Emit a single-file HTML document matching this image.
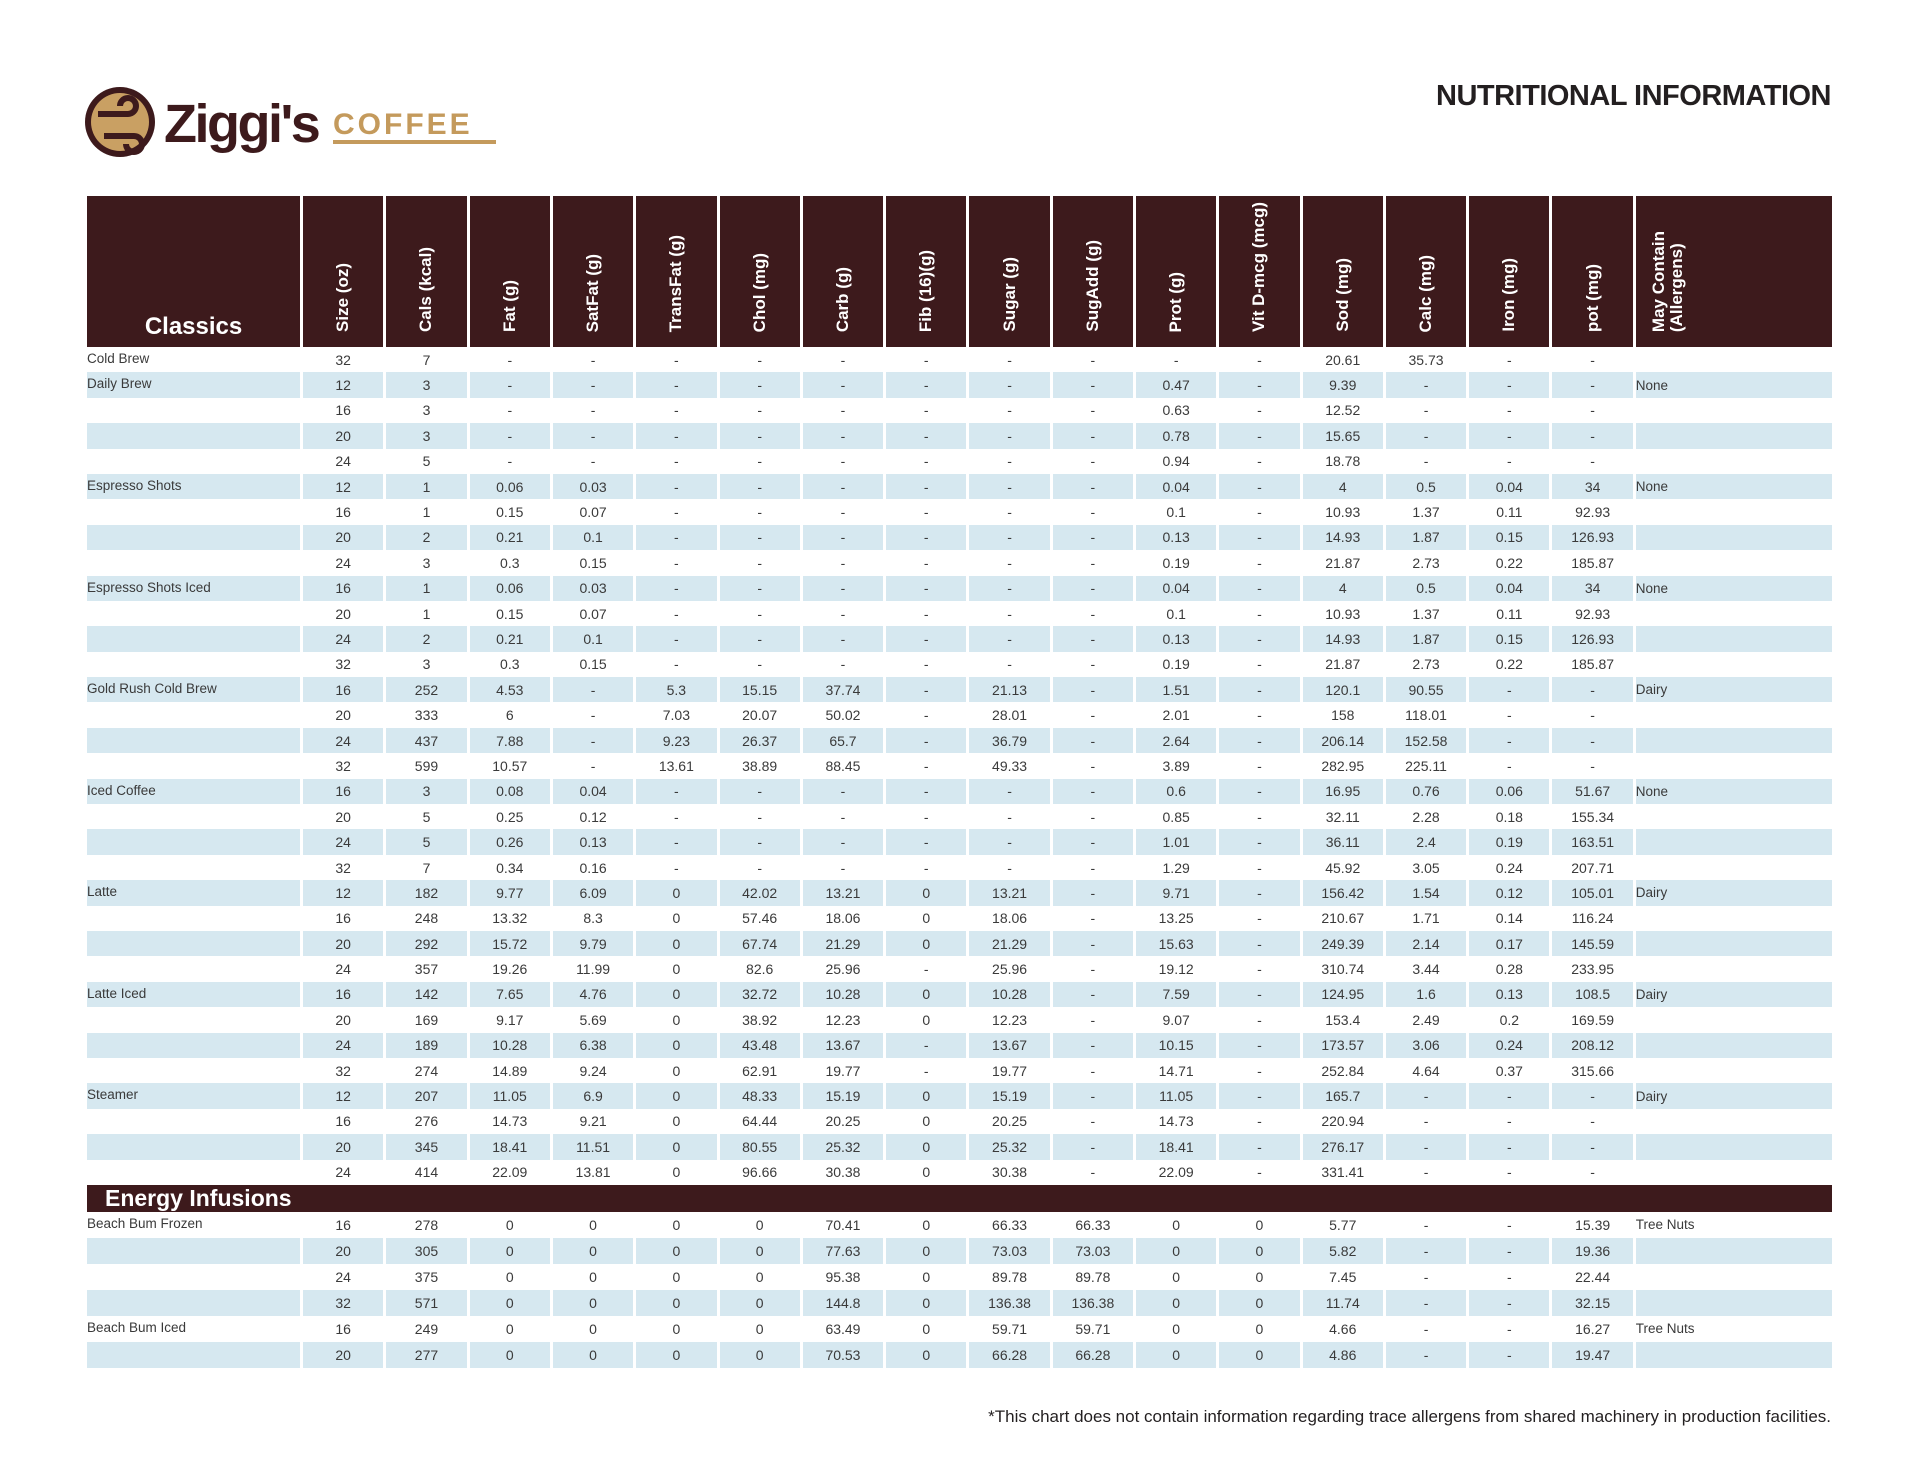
<!DOCTYPE html>
<html><head><meta charset="utf-8"><style>
body{margin:0;width:1920px;height:1484px;background:#fff;position:relative;overflow:hidden;font-family:"Liberation Sans Narrow","Liberation Sans",sans-serif;}
#title{position:absolute;right:89px;top:80px;font:bold 29px "Liberation Sans",sans-serif;color:#231f20;letter-spacing:-0.5px;}
#logo{position:absolute;left:84px;top:84px;}
table{position:absolute;left:84px;top:196px;border-collapse:separate;border-spacing:3px 0;table-layout:fixed;width:1751px;}
th{background:#3d1a1c;color:#fff;height:141px;vertical-align:bottom;padding:0 0 10px 0;font:bold 17px "Liberation Sans",sans-serif;}
th span{writing-mode:vertical-rl;transform:rotate(180deg);display:inline-block;text-align:left;line-height:18px;}
th.cl{font-size:24px;text-align:center;padding-bottom:6px;height:145px;}
td{height:25.4px;padding:0;text-align:center;font-size:14px;color:#3a3a3a;white-space:nowrap;}
td:first-child{text-align:left;font-size:13.5px;vertical-align:top;padding-top:4px;height:21.4px;}
td:last-child{text-align:left;font-size:13.5px;}
tr.s td{background:#d6e8f0;}
tr.e td{background:#3d1a1c;color:#fff;font:bold 23px "Liberation Sans",sans-serif;height:24px;padding:0 0 0 18px;text-align:left;vertical-align:middle;}
tbody.en td{height:26px;}
tbody.en td:first-child{height:22px;}
#foot{position:absolute;right:89px;top:1407px;font-size:17px;color:#231f20;font-family:"Liberation Sans",sans-serif;}
</style></head><body>
<svg id="logo" width="420" height="80" viewBox="0 0 420 80">
<circle cx="36" cy="38" r="35" fill="#3d1a1c"/><circle cx="36" cy="38" r="29" fill="#c9a063"/>
<path d="M14 30 h30 a8 8 0 1 0 -8 -8" stroke="#3d1a1c" stroke-width="6" fill="none"/>
<path d="M20 52 h30 a8 8 0 1 1 -8 8" stroke="#3d1a1c" stroke-width="6" fill="none"/>
<text x="80" y="58" font-family="Liberation Sans" font-size="54" font-weight="bold" fill="#3d1a1c" letter-spacing="-2.5">Ziggi's</text>
<text x="249" y="50" font-family="Liberation Sans" font-size="30" font-weight="bold" fill="#c49a5c" letter-spacing="3">COFFEE</text>
<rect x="249" y="56" width="163" height="4" fill="#c49a5c"/>
</svg>
<div id="title">NUTRITIONAL INFORMATION</div>
<table>
<colgroup><col style="width:213px"><col span="16" style="width:80.3px"><col style="width:196px"></colgroup>
<thead><tr><th class="cl">Classics</th><th><span>Size (oz)</span></th><th><span>Cals (kcal)</span></th><th><span>Fat (g)</span></th><th><span>SatFat (g)</span></th><th><span>TransFat (g)</span></th><th><span>Chol (mg)</span></th><th><span>Carb (g)</span></th><th><span>Fib (16)(g)</span></th><th><span>Sugar (g)</span></th><th><span>SugAdd (g)</span></th><th><span>Prot (g)</span></th><th><span>Vit D-mcg (mcg)</span></th><th><span>Sod (mg)</span></th><th><span>Calc (mg)</span></th><th><span>Iron (mg)</span></th><th><span>pot (mg)</span></th><th style="text-align:left;padding-left:14px"><span>May Contain<br>(Allergens)</span></th></tr></thead>
<tbody>
<tr><td>Cold Brew</td><td>32</td><td>7</td><td>-</td><td>-</td><td>-</td><td>-</td><td>-</td><td>-</td><td>-</td><td>-</td><td>-</td><td>-</td><td>20.61</td><td>35.73</td><td>-</td><td>-</td><td></td></tr>
<tr class="s"><td>Daily Brew</td><td>12</td><td>3</td><td>-</td><td>-</td><td>-</td><td>-</td><td>-</td><td>-</td><td>-</td><td>-</td><td>0.47</td><td>-</td><td>9.39</td><td>-</td><td>-</td><td>-</td><td>None</td></tr>
<tr><td></td><td>16</td><td>3</td><td>-</td><td>-</td><td>-</td><td>-</td><td>-</td><td>-</td><td>-</td><td>-</td><td>0.63</td><td>-</td><td>12.52</td><td>-</td><td>-</td><td>-</td><td></td></tr>
<tr class="s"><td></td><td>20</td><td>3</td><td>-</td><td>-</td><td>-</td><td>-</td><td>-</td><td>-</td><td>-</td><td>-</td><td>0.78</td><td>-</td><td>15.65</td><td>-</td><td>-</td><td>-</td><td></td></tr>
<tr><td></td><td>24</td><td>5</td><td>-</td><td>-</td><td>-</td><td>-</td><td>-</td><td>-</td><td>-</td><td>-</td><td>0.94</td><td>-</td><td>18.78</td><td>-</td><td>-</td><td>-</td><td></td></tr>
<tr class="s"><td>Espresso Shots</td><td>12</td><td>1</td><td>0.06</td><td>0.03</td><td>-</td><td>-</td><td>-</td><td>-</td><td>-</td><td>-</td><td>0.04</td><td>-</td><td>4</td><td>0.5</td><td>0.04</td><td>34</td><td>None</td></tr>
<tr><td></td><td>16</td><td>1</td><td>0.15</td><td>0.07</td><td>-</td><td>-</td><td>-</td><td>-</td><td>-</td><td>-</td><td>0.1</td><td>-</td><td>10.93</td><td>1.37</td><td>0.11</td><td>92.93</td><td></td></tr>
<tr class="s"><td></td><td>20</td><td>2</td><td>0.21</td><td>0.1</td><td>-</td><td>-</td><td>-</td><td>-</td><td>-</td><td>-</td><td>0.13</td><td>-</td><td>14.93</td><td>1.87</td><td>0.15</td><td>126.93</td><td></td></tr>
<tr><td></td><td>24</td><td>3</td><td>0.3</td><td>0.15</td><td>-</td><td>-</td><td>-</td><td>-</td><td>-</td><td>-</td><td>0.19</td><td>-</td><td>21.87</td><td>2.73</td><td>0.22</td><td>185.87</td><td></td></tr>
<tr class="s"><td>Espresso Shots Iced</td><td>16</td><td>1</td><td>0.06</td><td>0.03</td><td>-</td><td>-</td><td>-</td><td>-</td><td>-</td><td>-</td><td>0.04</td><td>-</td><td>4</td><td>0.5</td><td>0.04</td><td>34</td><td>None</td></tr>
<tr><td></td><td>20</td><td>1</td><td>0.15</td><td>0.07</td><td>-</td><td>-</td><td>-</td><td>-</td><td>-</td><td>-</td><td>0.1</td><td>-</td><td>10.93</td><td>1.37</td><td>0.11</td><td>92.93</td><td></td></tr>
<tr class="s"><td></td><td>24</td><td>2</td><td>0.21</td><td>0.1</td><td>-</td><td>-</td><td>-</td><td>-</td><td>-</td><td>-</td><td>0.13</td><td>-</td><td>14.93</td><td>1.87</td><td>0.15</td><td>126.93</td><td></td></tr>
<tr><td></td><td>32</td><td>3</td><td>0.3</td><td>0.15</td><td>-</td><td>-</td><td>-</td><td>-</td><td>-</td><td>-</td><td>0.19</td><td>-</td><td>21.87</td><td>2.73</td><td>0.22</td><td>185.87</td><td></td></tr>
<tr class="s"><td>Gold Rush Cold Brew</td><td>16</td><td>252</td><td>4.53</td><td>-</td><td>5.3</td><td>15.15</td><td>37.74</td><td>-</td><td>21.13</td><td>-</td><td>1.51</td><td>-</td><td>120.1</td><td>90.55</td><td>-</td><td>-</td><td>Dairy</td></tr>
<tr><td></td><td>20</td><td>333</td><td>6</td><td>-</td><td>7.03</td><td>20.07</td><td>50.02</td><td>-</td><td>28.01</td><td>-</td><td>2.01</td><td>-</td><td>158</td><td>118.01</td><td>-</td><td>-</td><td></td></tr>
<tr class="s"><td></td><td>24</td><td>437</td><td>7.88</td><td>-</td><td>9.23</td><td>26.37</td><td>65.7</td><td>-</td><td>36.79</td><td>-</td><td>2.64</td><td>-</td><td>206.14</td><td>152.58</td><td>-</td><td>-</td><td></td></tr>
<tr><td></td><td>32</td><td>599</td><td>10.57</td><td>-</td><td>13.61</td><td>38.89</td><td>88.45</td><td>-</td><td>49.33</td><td>-</td><td>3.89</td><td>-</td><td>282.95</td><td>225.11</td><td>-</td><td>-</td><td></td></tr>
<tr class="s"><td>Iced Coffee</td><td>16</td><td>3</td><td>0.08</td><td>0.04</td><td>-</td><td>-</td><td>-</td><td>-</td><td>-</td><td>-</td><td>0.6</td><td>-</td><td>16.95</td><td>0.76</td><td>0.06</td><td>51.67</td><td>None</td></tr>
<tr><td></td><td>20</td><td>5</td><td>0.25</td><td>0.12</td><td>-</td><td>-</td><td>-</td><td>-</td><td>-</td><td>-</td><td>0.85</td><td>-</td><td>32.11</td><td>2.28</td><td>0.18</td><td>155.34</td><td></td></tr>
<tr class="s"><td></td><td>24</td><td>5</td><td>0.26</td><td>0.13</td><td>-</td><td>-</td><td>-</td><td>-</td><td>-</td><td>-</td><td>1.01</td><td>-</td><td>36.11</td><td>2.4</td><td>0.19</td><td>163.51</td><td></td></tr>
<tr><td></td><td>32</td><td>7</td><td>0.34</td><td>0.16</td><td>-</td><td>-</td><td>-</td><td>-</td><td>-</td><td>-</td><td>1.29</td><td>-</td><td>45.92</td><td>3.05</td><td>0.24</td><td>207.71</td><td></td></tr>
<tr class="s"><td>Latte</td><td>12</td><td>182</td><td>9.77</td><td>6.09</td><td>0</td><td>42.02</td><td>13.21</td><td>0</td><td>13.21</td><td>-</td><td>9.71</td><td>-</td><td>156.42</td><td>1.54</td><td>0.12</td><td>105.01</td><td>Dairy</td></tr>
<tr><td></td><td>16</td><td>248</td><td>13.32</td><td>8.3</td><td>0</td><td>57.46</td><td>18.06</td><td>0</td><td>18.06</td><td>-</td><td>13.25</td><td>-</td><td>210.67</td><td>1.71</td><td>0.14</td><td>116.24</td><td></td></tr>
<tr class="s"><td></td><td>20</td><td>292</td><td>15.72</td><td>9.79</td><td>0</td><td>67.74</td><td>21.29</td><td>0</td><td>21.29</td><td>-</td><td>15.63</td><td>-</td><td>249.39</td><td>2.14</td><td>0.17</td><td>145.59</td><td></td></tr>
<tr><td></td><td>24</td><td>357</td><td>19.26</td><td>11.99</td><td>0</td><td>82.6</td><td>25.96</td><td>-</td><td>25.96</td><td>-</td><td>19.12</td><td>-</td><td>310.74</td><td>3.44</td><td>0.28</td><td>233.95</td><td></td></tr>
<tr class="s"><td>Latte Iced</td><td>16</td><td>142</td><td>7.65</td><td>4.76</td><td>0</td><td>32.72</td><td>10.28</td><td>0</td><td>10.28</td><td>-</td><td>7.59</td><td>-</td><td>124.95</td><td>1.6</td><td>0.13</td><td>108.5</td><td>Dairy</td></tr>
<tr><td></td><td>20</td><td>169</td><td>9.17</td><td>5.69</td><td>0</td><td>38.92</td><td>12.23</td><td>0</td><td>12.23</td><td>-</td><td>9.07</td><td>-</td><td>153.4</td><td>2.49</td><td>0.2</td><td>169.59</td><td></td></tr>
<tr class="s"><td></td><td>24</td><td>189</td><td>10.28</td><td>6.38</td><td>0</td><td>43.48</td><td>13.67</td><td>-</td><td>13.67</td><td>-</td><td>10.15</td><td>-</td><td>173.57</td><td>3.06</td><td>0.24</td><td>208.12</td><td></td></tr>
<tr><td></td><td>32</td><td>274</td><td>14.89</td><td>9.24</td><td>0</td><td>62.91</td><td>19.77</td><td>-</td><td>19.77</td><td>-</td><td>14.71</td><td>-</td><td>252.84</td><td>4.64</td><td>0.37</td><td>315.66</td><td></td></tr>
<tr class="s"><td>Steamer</td><td>12</td><td>207</td><td>11.05</td><td>6.9</td><td>0</td><td>48.33</td><td>15.19</td><td>0</td><td>15.19</td><td>-</td><td>11.05</td><td>-</td><td>165.7</td><td>-</td><td>-</td><td>-</td><td>Dairy</td></tr>
<tr><td></td><td>16</td><td>276</td><td>14.73</td><td>9.21</td><td>0</td><td>64.44</td><td>20.25</td><td>0</td><td>20.25</td><td>-</td><td>14.73</td><td>-</td><td>220.94</td><td>-</td><td>-</td><td>-</td><td></td></tr>
<tr class="s"><td></td><td>20</td><td>345</td><td>18.41</td><td>11.51</td><td>0</td><td>80.55</td><td>25.32</td><td>0</td><td>25.32</td><td>-</td><td>18.41</td><td>-</td><td>276.17</td><td>-</td><td>-</td><td>-</td><td></td></tr>
<tr><td></td><td>24</td><td>414</td><td>22.09</td><td>13.81</td><td>0</td><td>96.66</td><td>30.38</td><td>0</td><td>30.38</td><td>-</td><td>22.09</td><td>-</td><td>331.41</td><td>-</td><td>-</td><td>-</td><td></td></tr>
</tbody>
<tbody class="en">
<tr class="e"><td colspan="18">Energy Infusions</td></tr>
<tr><td>Beach Bum Frozen</td><td>16</td><td>278</td><td>0</td><td>0</td><td>0</td><td>0</td><td>70.41</td><td>0</td><td>66.33</td><td>66.33</td><td>0</td><td>0</td><td>5.77</td><td>-</td><td>-</td><td>15.39</td><td>Tree Nuts</td></tr>
<tr class="s"><td></td><td>20</td><td>305</td><td>0</td><td>0</td><td>0</td><td>0</td><td>77.63</td><td>0</td><td>73.03</td><td>73.03</td><td>0</td><td>0</td><td>5.82</td><td>-</td><td>-</td><td>19.36</td><td></td></tr>
<tr><td></td><td>24</td><td>375</td><td>0</td><td>0</td><td>0</td><td>0</td><td>95.38</td><td>0</td><td>89.78</td><td>89.78</td><td>0</td><td>0</td><td>7.45</td><td>-</td><td>-</td><td>22.44</td><td></td></tr>
<tr class="s"><td></td><td>32</td><td>571</td><td>0</td><td>0</td><td>0</td><td>0</td><td>144.8</td><td>0</td><td>136.38</td><td>136.38</td><td>0</td><td>0</td><td>11.74</td><td>-</td><td>-</td><td>32.15</td><td></td></tr>
<tr><td>Beach Bum Iced</td><td>16</td><td>249</td><td>0</td><td>0</td><td>0</td><td>0</td><td>63.49</td><td>0</td><td>59.71</td><td>59.71</td><td>0</td><td>0</td><td>4.66</td><td>-</td><td>-</td><td>16.27</td><td>Tree Nuts</td></tr>
<tr class="s"><td></td><td>20</td><td>277</td><td>0</td><td>0</td><td>0</td><td>0</td><td>70.53</td><td>0</td><td>66.28</td><td>66.28</td><td>0</td><td>0</td><td>4.86</td><td>-</td><td>-</td><td>19.47</td><td></td></tr>
</tbody>
</table>
<div id="foot">*This chart does not contain information regarding trace allergens from shared machinery in production facilities.</div>
</body></html>
